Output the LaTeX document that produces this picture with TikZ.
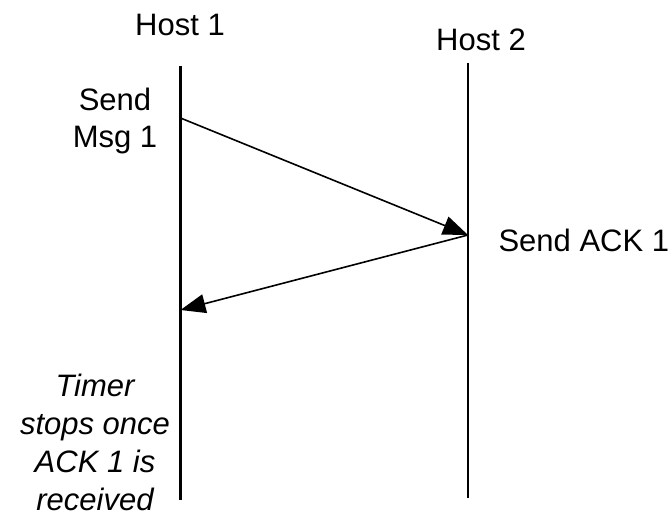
\documentclass[tikz,border=0pt]{standalone}
\usepackage{fontspec}
\setmainfont{Liberation Sans}
\usetikzlibrary{arrows.meta}
\begin{document}
\begin{tikzpicture}[x=1pt, y=-1pt, font=\fontsize{31}{37}\selectfont,
        msg/.style={line width=1.6pt, -{Triangle[length=25pt, width=19pt]}}]
        \useasboundingbox (0,0) rectangle (670,519);
        \draw (180,25) node (h1) {Host 1};
        \draw (481,40) node (h2) {Host 2};
        \coordinate (h1top) at (180.5,66);
        \coordinate (h1bot) at (180.5,500);
        \coordinate (h2top) at (468,63);
        \coordinate (h2bot) at (468,498);
        \coordinate (send) at (180.5,118);
        \coordinate (ack) at (468,235);
        \coordinate (recv) at (180.5,310);

        \draw[line width=2.5pt] (h1top) -- (h1bot);
        \draw[line width=2.5pt] (h2top) -- (h2bot);

        \draw[msg] (send) -- (ack);
        \draw[msg] (ack) -- (recv);

        \draw (115,121) node[align=center] (sendmsg) {Send\\Msg 1};
        \draw (495,240) node[anchor=west] (sendack) {Send ACK 1};
        \draw (95,442) node[align=center, font=\fontsize{31}{38}\selectfont\itshape] (timer) {Timer\\stops once\\ACK 1 is\\received};
    \end{tikzpicture}
\end{document}
